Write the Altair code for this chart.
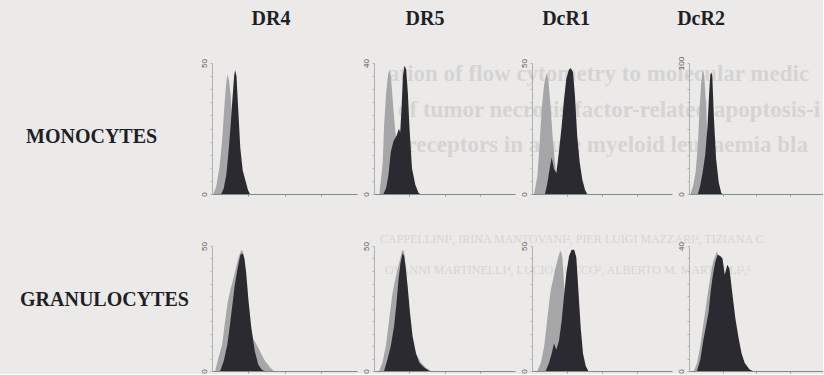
import altair as alt
import pandas as pd

# ---------------- data ----------------
markers = ["DR4", "DR5", "DcR1", "DcR2"]
cell_types = ["MONOCYTES", "GRANULOCYTES"]

# y-axis maximum (events) printed at the top of each histogram
ymax_mono = [50, 40, 50, 100]
ymax_gran = [50, 50, 50, 40]

# fluorescence channel (0-1024, 4 log decades) / event counts
mono_dr4_ctrl_ch = [9, 29, 53, 71, 83, 95, 107, 119, 132, 144, 156, 168, 181]
mono_dr4_ctrl_n = [0, 2.7, 10.2, 20.1, 30.1, 38.8, 45.6, 43.8, 37.7, 26.5, 10.2, 1.5, 0]
mono_dr4_stain_ch = [64, 83, 102, 119, 132, 144, 156, 163, 173, 185, 200, 217, 236, 254, 268]
mono_dr4_stain_n = [0, 2.1, 7.7, 17.6, 26.4, 36.1, 45, 47.3, 45, 32.5, 17.6, 9, 5.2, 1.5, 0]

mono_dr5_ctrl_ch = [39, 49, 64, 73, 88, 102, 112, 122, 132, 141, 151, 161, 170, 185, 200, 210]
mono_dr5_ctrl_n = [0, 3.8, 10, 20.8, 30.8, 36.4, 38, 36, 30.8, 26, 20.8, 16.8, 12.8, 5.8, 0.8, 0]
mono_dr5_stain_ch = [68, 88, 105, 122, 141, 166, 181, 190, 200, 210, 222, 234, 246, 258, 276, 300, 324, 336]
mono_dr5_stain_n = [0, 1.8, 5.8, 12.8, 16, 18, 20, 18.8, 26, 36, 39.2, 38, 30.8, 20, 7.8, 2.8, 0.3, 0]

mono_dcr1_ctrl_ch = [15, 39, 56, 71, 88, 105, 119, 137, 154, 168, 185, 203]
mono_dcr1_ctrl_n = [0, 6.7, 19.5, 32.5, 41.5, 46, 44, 32.5, 19.5, 12, 4, 0]
mono_dcr1_stain_ch = [95, 112, 129, 144, 161, 178, 197, 217, 234, 251, 270, 285, 300, 314, 331, 349, 368, 388, 404]
mono_dcr1_stain_n = [0, 4, 9.5, 14, 9.5, 8, 16, 26, 36, 44, 47.5, 48, 46.5, 37.5, 22, 12, 5.5, 1.5, 0]

mono_dcr2_ctrl_ch = [12, 32, 51, 68, 80, 93, 105, 117, 129, 141, 159, 178, 192]
mono_dcr2_ctrl_n = [0, 6.5, 17, 38, 64, 85, 95, 90, 69, 43, 17, 4, 0]
mono_dcr2_stain_ch = [68, 86, 105, 124, 141, 154, 163, 170, 178, 190, 207, 227, 246, 256]
mono_dcr2_stain_n = [0, 6.5, 17, 30, 51, 77, 91, 93, 90, 59, 27, 9, 1, 0]

gran_dr4_ctrl_ch = [22, 46, 71, 95, 112, 132, 151, 168, 185, 200, 212, 225, 241, 265, 290, 327, 351, 375, 412, 437]
gran_dr4_ctrl_n = [0, 5.3, 10.5, 21, 28, 33, 37, 41, 45, 47.5, 48.5, 46.5, 34.5, 21, 13, 9.3, 6.5, 4, 1.3, 0]
gran_dr4_stain_ch = [58, 83, 108, 127, 144, 161, 181, 200, 217, 229, 241, 258, 278, 302, 327, 351, 371]
gran_dr4_stain_n = [0, 4, 10.5, 18.5, 26.5, 34.5, 41, 46.5, 47, 45, 39.5, 28, 17, 8, 2.5, 0.6, 0]

gran_dr5_ctrl_ch = [37, 61, 86, 110, 134, 154, 170, 188, 203, 212, 222, 236, 256, 280, 305, 342, 378, 415]
gran_dr5_ctrl_n = [0, 3.3, 10, 20.5, 31, 36.5, 40.5, 44.5, 48, 48.5, 46.5, 37.5, 23, 12.5, 7, 3.3, 1.3, 0]
gran_dr5_stain_ch = [73, 97, 122, 146, 163, 178, 192, 207, 219, 232, 244, 261, 280, 305, 329, 366, 402]
gran_dr5_stain_n = [0, 4.5, 10, 18, 27, 36.5, 43, 47, 46, 40.5, 34, 23.5, 14, 7, 3.3, 1.3, 0]

gran_dcr1_ctrl_ch = [39, 64, 88, 105, 124, 137, 154, 168, 185, 203, 212, 222, 234, 246, 258, 276, 295]
gran_dcr1_ctrl_n = [0, 3.2, 9.5, 17.5, 26.5, 32.5, 36.5, 40.5, 44, 47.5, 48, 45.5, 35.5, 22.5, 12, 4.5, 0]
gran_dcr1_stain_ch = [100, 124, 144, 161, 178, 197, 217, 234, 251, 271, 290, 309, 324, 339, 356, 373, 393, 412]
gran_dcr1_stain_n = [0, 3.2, 7, 11, 8.5, 12, 20, 30, 39, 46, 48.5, 48.5, 45.5, 32.5, 17.5, 7, 2, 0]

gran_dcr2_ctrl_ch = [37, 61, 86, 110, 129, 146, 166, 183, 200, 214, 229, 244, 268, 298, 329, 353]
gran_dcr2_ctrl_n = [0, 2.6, 8, 15.2, 20.4, 25.6, 30.8, 34.8, 36.8, 38.4, 36, 30.8, 20.4, 10, 2.6, 0]
gran_dcr2_stain_ch = [61, 86, 110, 134, 151, 166, 183, 200, 219, 239, 256, 273, 293, 309, 329, 353, 378, 402, 426, 463, 488]
gran_dcr2_stain_n = [0, 3.6, 10, 15.2, 19.2, 25.6, 30.8, 34.8, 37.2, 36.8, 36, 30.8, 34, 32.8, 25.6, 17.2, 10.8, 5.6, 2.6, 0.5, 0]

# faint show-through text of the facing page
ghost_title = ["ation of flow cytometry to molecular medic",
               "of tumor necrosis factor-related apoptosis-i",
               "d receptors in acute myeloid leukaemia bla"]
ghost_authors = ["CAPPELLINI\u00b9, IRINA MANTOVANI\u00b2, PIER LUIGI MAZZARI\u00b3, TIZIANA C",
                 "OVANNI MARTINELLI\u2074, LUCIO COCCO\u00b2, ALBERTO M. MARTELLI\u00b2,\u2075"]

# ---------------- styling ----------------
BG = "#ebeae9"
GHOST = "#d5d4d3"
CTRL_COLOR = "#a6a6a8"
STAIN_COLOR = "#2b2a30"
INK = "#1f1f26"
SERIF = "Liberation Serif"

COL_W = [195, 145, 141, 140, 134]
ROW_H = [9, 131, 125]
HEADER_DX = [59, 51, 34, 12]


def panel(ctrl_ch, ctrl_n, stain_ch, stain_n, ymax, w, h):
    ctrl = pd.DataFrame({"channel": ctrl_ch, "count": ctrl_n})
    stain = pd.DataFrame({"channel": stain_ch, "count": stain_n})
    x = alt.X("channel:Q",
              scale=alt.Scale(domain=[0, 1024], nice=False, zero=False),
              axis=alt.Axis(values=[256, 512, 768], labels=False, ticks=True,
                            tickSize=2, tickColor="#8a9a98", domainColor="#7d8d8b",
                            domainWidth=1, grid=False, title=None))
    y = alt.Y("count:Q",
              scale=alt.Scale(domain=[0, ymax], nice=False),
              axis=alt.Axis(values=[ymax * i / 10 for i in range(11)],
                            labelExpr=f"datum.value == 0 || datum.value == {ymax} ? datum.label : ''",
                            labelAngle=-90, labelFontSize=8, labelColor="#5a5a5a",
                            labelFont="Liberation Sans", labelPadding=2,
                            tickSize=2, tickColor="#b5b5b5", domainColor="#b0b0b0",
                            domainWidth=1, grid=False, title=None))
    a = alt.Chart(ctrl).mark_area(color=CTRL_COLOR, interpolate="linear").encode(x=x, y=y)
    b = alt.Chart(stain).mark_area(color=STAIN_COLOR, interpolate="linear").encode(x=x, y=y)
    return alt.layer(a, b).properties(width=w, height=h)


def text_chart(lines, xs, ys, size, weight, color, w, h):
    layers = []
    for t, xx, yy in zip(lines, xs, ys):
        layers.append(
            alt.Chart(pd.DataFrame({"t": [t]}))
            .mark_text(font=SERIF, fontSize=size, fontWeight=weight, color=color,
                       align="left", baseline="middle")
            .encode(text="t:N", x=alt.value(xx), y=alt.value(yy))
        )
    return alt.layer(*layers).properties(width=w, height=h)


def header(name, dx, w):
    return (alt.Chart(pd.DataFrame({"t": [name]}))
            .mark_text(font=SERIF, fontSize=20, fontWeight="bold", color=INK,
                       align="center", baseline="middle")
            .encode(text="t:N", x=alt.value(dx), y=alt.value(17))
            .properties(width=w, height=ROW_H[0]))


cells = []
# header row
cells.append(alt.Chart(pd.DataFrame({"t": [""]})).mark_text().encode(text="t:N")
             .properties(width=COL_W[0], height=ROW_H[0]))
for i, m in enumerate(markers):
    cells.append(header(m, HEADER_DX[i], COL_W[i + 1]))

# monocyte row
mono_label = alt.layer(
    text_chart(ghost_title, [388, 398, 388], [11, 47, 82], 23, "bold", GHOST, COL_W[0], ROW_H[1]),
    text_chart([cell_types[0]], [26], [74], 20, "bold", INK, COL_W[0], ROW_H[1]),
)
cells.append(mono_label)
mono_data = [
    (mono_dr4_ctrl_ch, mono_dr4_ctrl_n, mono_dr4_stain_ch, mono_dr4_stain_n),
    (mono_dr5_ctrl_ch, mono_dr5_ctrl_n, mono_dr5_stain_ch, mono_dr5_stain_n),
    (mono_dcr1_ctrl_ch, mono_dcr1_ctrl_n, mono_dcr1_stain_ch, mono_dcr1_stain_n),
    (mono_dcr2_ctrl_ch, mono_dcr2_ctrl_n, mono_dcr2_stain_ch, mono_dcr2_stain_n),
]
for i, d in enumerate(mono_data):
    cells.append(panel(*d, ymax_mono[i], COL_W[i + 1], ROW_H[1]))

# granulocyte row
gran_label = alt.layer(
    text_chart(ghost_authors, [380, 385], [-7, 24], 12, "normal", GHOST, COL_W[0], ROW_H[2]),
    text_chart([cell_types[1]], [20], [54], 20, "bold", INK, COL_W[0], ROW_H[2]),
)
cells.append(gran_label)
gran_data = [
    (gran_dr4_ctrl_ch, gran_dr4_ctrl_n, gran_dr4_stain_ch, gran_dr4_stain_n),
    (gran_dr5_ctrl_ch, gran_dr5_ctrl_n, gran_dr5_stain_ch, gran_dr5_stain_n),
    (gran_dcr1_ctrl_ch, gran_dcr1_ctrl_n, gran_dcr1_stain_ch, gran_dcr1_stain_n),
    (gran_dcr2_ctrl_ch, gran_dcr2_ctrl_n, gran_dcr2_stain_ch, gran_dcr2_stain_n),
]
for i, d in enumerate(gran_data):
    cells.append(panel(*d, ymax_gran[i], COL_W[i + 1], ROW_H[2]))

chart = (
    alt.concat(*cells, columns=5, spacing={"row": 52, "column": 17}, bounds="flush")
    .properties(background=BG, padding=0)
    .configure_view(stroke=None)
)

chart.save("out.html", embed_options={"renderer": "svg", "actions": False})
